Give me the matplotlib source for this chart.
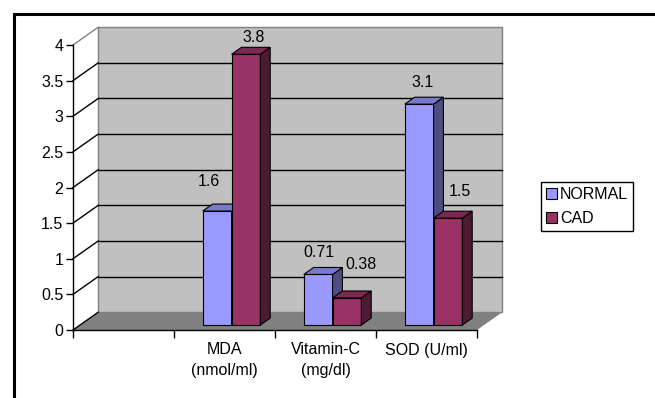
#!/usr/bin/env python
# encoding=utf-8
"""3D-look clustered bars: NORMAL vs CAD oxidative stress markers."""
import numpy as np
import matplotlib
matplotlib.use('Agg')
import matplotlib.pyplot as plt
from matplotlib.patches import Polygon, Rectangle, Patch

# Data (first category is empty in the original chart)
categories = ['', 'MDA\n(nmol/ml)', 'Vitamin-C\n(mg/dl)', 'SOD (U/ml)']
normal = [np.nan, 1.6, 0.71, 3.1]
cad = [np.nan, 3.8, 0.38, 1.5]
series_names = ['NORMAL', 'CAD']
yticks = [0, 0.5, 1, 1.5, 2, 2.5, 3, 3.5, 4]
ytick_labels = ['0', '0.5', '1', '1.5', '2', '2.5', '3', '3.5', '4']

# Styles
FACE = {'NORMAL': ('#9999FF', '#7A7ACC', '#4D4D80'),   # front, top, side
        'CAD': ('#993366', '#7A2952', '#4D1A33')}
WALL = '#C0C0C0'
FLOOR = '#808080'
EDGE = '#808080'
# pixel nudges for the value labels (right, up) from bar front-top centre
NUDGE = {'NORMAL': [None, (-8, 30), (1, 22), (3, 22)],
         'CAD': [None, (8, 17), (14, 33), (12, 27)]}

DX, DY = 0.25, 0.25        # full depth offset (category units, value units)
Z0, Z1 = 0.28, 0.67        # bar front / back depth fraction
BAR_W = 0.285

plt.rcParams['font.family'] = ['Liberation Sans', 'DejaVu Sans']
plt.rcParams['font.size'] = 11.5

W, H = 655, 398
fig = plt.figure(figsize=(W / 100, H / 100), dpi=100)
fig.patch.set_facecolor('white')
ax = fig.add_axes([73 / W, 68 / H, 404 / W, 285 / H])
ax.set_xlim(0, 4)
ax.set_ylim(0, 4)
ax.patch.set_visible(False)


def proj(x, y, z):
    return (x + z * DX, y + z * DY)


def poly(pts, fc, ec='black', lw=0.8, z=2):
    ax.add_patch(Polygon(pts, closed=True, fc=fc, ec=ec, lw=lw,
                         clip_on=False, zorder=z, joinstyle='miter'))


n = len(categories)
top = yticks[-1]

# back wall and floor
poly([proj(0, 0, 1), proj(n, 0, 1), proj(n, top, 1), proj(0, top, 1)],
     WALL, ec=EDGE, lw=1, z=0.5)
poly([proj(0, 0, 0), proj(n, 0, 0), proj(n, 0, 1), proj(0, 0, 1)],
     FLOOR, ec='none', lw=0, z=0.6)

# gridlines on back wall + side wall diagonals
for v in yticks:
    col = EDGE if v == top else 'black'
    if 0 < v < top:
        p0, p1 = proj(0, v, 1), proj(n, v, 1)
        ax.plot([p0[0], p1[0]], [p0[1], p1[1]], color='black', lw=1,
                clip_on=False, zorder=0.8)
    q0, q1 = proj(0, v, 0), proj(0, v, 1)
    ax.plot([q0[0], q1[0]], [q0[1], q1[1]], color=col, lw=1,
            clip_on=False, zorder=0.8)


def bar(x0, x1, v, name):
    front, topc, side = FACE[name]
    poly([proj(x0, 0, Z0), proj(x1, 0, Z0), proj(x1, v, Z0), proj(x0, v, Z0)], front)
    poly([proj(x1, 0, Z0), proj(x1, 0, Z1), proj(x1, v, Z1), proj(x1, v, Z0)], side)
    poly([proj(x0, v, Z0), proj(x1, v, Z0), proj(x1, v, Z1), proj(x0, v, Z1)], topc)


for i in range(n):
    c = i + 0.5
    for name, vals, x0 in (('NORMAL', normal, c - BAR_W), ('CAD', cad, c)):
        v = vals[i]
        if np.isnan(v):
            continue
        bar(x0, x0 + BAR_W, v, name)
        dx, dy = NUDGE[name][i]
        ax.annotate('%g' % v, proj(x0 + BAR_W / 2, v, Z0),
                    xytext=(dx * 0.72, dy * 0.72), textcoords='offset points',
                    ha='center', va='center', annotation_clip=False, zorder=5)

# axes
for s in ('top', 'right'):
    ax.spines[s].set_visible(False)
for s in ('left', 'bottom'):
    ax.spines[s].set_linewidth(1)
    ax.spines[s].set_color('black')
ax.set_yticks(yticks, ytick_labels)
ax.tick_params(axis='y', length=5, width=1, pad=2)
ax.set_xticks(range(n + 1))
ax.set_xticklabels([])
ax.tick_params(axis='x', which='major', length=6, width=1)
ax.set_xticks([i + 0.5 for i in range(n)], minor=True)
ax.set_xticklabels(categories, minor=True, linespacing=1.5)
ax.tick_params(axis='x', which='minor', length=0, pad=9)

# legend
handles = [Patch(fc=FACE[s][0], ec='black', lw=0.8) for s in series_names]
leg = fig.legend(handles, series_names, loc='center left',
                 bbox_to_anchor=(541 / W, 1 - 206.5 / H), frameon=True,
                 fancybox=False, edgecolor='black', framealpha=1,
                 borderpad=0.3, handlelength=0.7, handleheight=0.7,
                 handletextpad=0.2, labelspacing=0.55, borderaxespad=0)
leg.get_frame().set_linewidth(1)

# chart-area border (cut off on the right and bottom in the original)
fig.add_artist(Rectangle((13.5 / W, -0.2), 2, 0.2 + (H - 13.5) / H,
                         transform=fig.transFigure, fill=False,
                         ec='black', lw=2.2))

fig.savefig('out.png', dpi=100)
